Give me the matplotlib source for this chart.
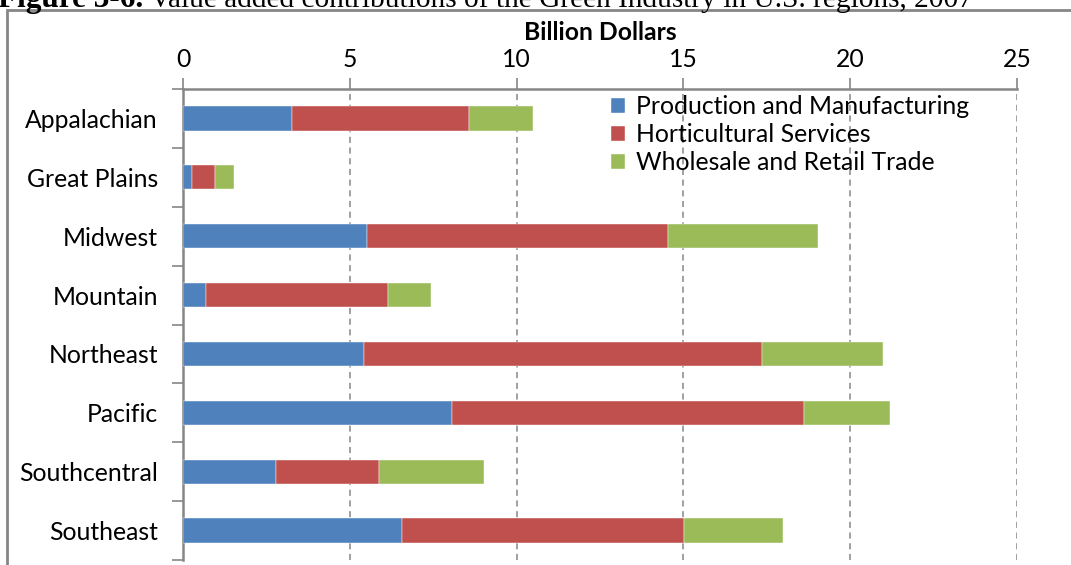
import matplotlib
matplotlib.use("Agg")
import matplotlib.pyplot as plt
from matplotlib.patches import Rectangle
import numpy as np

# Value added by region, billion dollars
regions = ["Appalachian", "Great Plains", "Midwest", "Mountain",
           "Northeast", "Pacific", "Southcentral", "Southeast"]
production = [3.27, 0.27, 5.51, 0.69, 5.42, 8.06, 2.79, 6.56]
horticultural = [5.30, 0.69, 9.02, 5.45, 11.93, 10.55, 3.08, 8.45]
wholesale = [1.92, 0.57, 4.50, 1.29, 3.63, 2.58, 3.15, 2.97]
series_names = ["Production and Manufacturing", "Horticultural Services",
                "Wholesale and Retail Trade"]
x_ticks = [0, 5, 10, 15, 20, 25]

colors = ["#4F81BD", "#C0504D", "#9BBB59"]
gray = "#868686"
font = "Lato"
fs = 17.8

W, H = 1071, 565
fig = plt.figure(figsize=(W / 100, H / 100), dpi=100)
ax = fig.add_axes([183 / W, 1 - 560 / H, (1017 - 183) / W, (560 - 89) / H])

y = np.arange(len(regions))
left = np.zeros(len(regions))
for vals, name, c in zip([production, horticultural, wholesale], series_names, colors):
    ax.barh(y, vals, left=left, height=0.41, color=c, label=name,
            edgecolor="white", linewidth=0.3, zorder=3)
    left += np.array(vals)

ax.set_xlim(0, 25)
ax.set_ylim(len(regions) - 0.5, -0.5)
ax.set_xticks(x_ticks)
ax.xaxis.tick_top()
ax.tick_params(axis="x", direction="out", length=8, width=1.2, color=gray,
               pad=5, labelsize=fs)
ax.set_xticklabels([str(t) for t in x_ticks], fontfamily=font)

# category labels centred on bars, tick marks between categories
ax.set_yticks(y)
ax.set_yticklabels(regions, fontfamily=font, fontsize=fs)
ax.tick_params(axis="y", length=0, pad=18)
ax.set_yticks(np.arange(len(regions) + 1) - 0.5, minor=True)
ax.tick_params(axis="y", which="minor", direction="out", length=8, width=1.2, color=gray)

ax.grid(axis="x", linestyle=(0, (4, 3)), color=gray, linewidth=1.1, zorder=0)
for s in ["right", "bottom"]:
    ax.spines[s].set_visible(False)
for s in ["top", "left"]:
    ax.spines[s].set_color(gray)
    ax.spines[s].set_linewidth(1.8)

fig.text(600 / W, 1 - 32 / H, "Billion Dollars", ha="center", va="center",
         fontfamily=font, fontweight="bold", fontsize=fs)

leg = ax.legend(loc="upper left", bbox_to_anchor=(611 / W, 1 - 95 / H),
                bbox_transform=fig.transFigure, frameon=False,
                prop={"family": font, "size": fs}, handlelength=0.55,
                handleheight=0.55, handletextpad=0.45, labelspacing=0.2,
                borderpad=0, borderaxespad=0)

# outer frame and figure caption
fig.add_artist(Rectangle((7 / W, -0.05), 1.1, 1 - 10 / H + 0.05,
                         transform=fig.transFigure, fill=False,
                         edgecolor=gray, linewidth=2, clip_on=False))
fig.text(-2 / W, 1 - 7 / H, "Figure 3-6.", fontfamily="Liberation Serif",
         fontweight="bold", fontsize=22.5, va="baseline", ha="left")
fig.text(150 / W, 1 - 7 / H,
         "Value added contributions of the Green Industry in U.S. regions, 2007",
         fontfamily="Liberation Serif", fontsize=21.2, va="baseline", ha="left")

fig.savefig("out.png", dpi=100)
